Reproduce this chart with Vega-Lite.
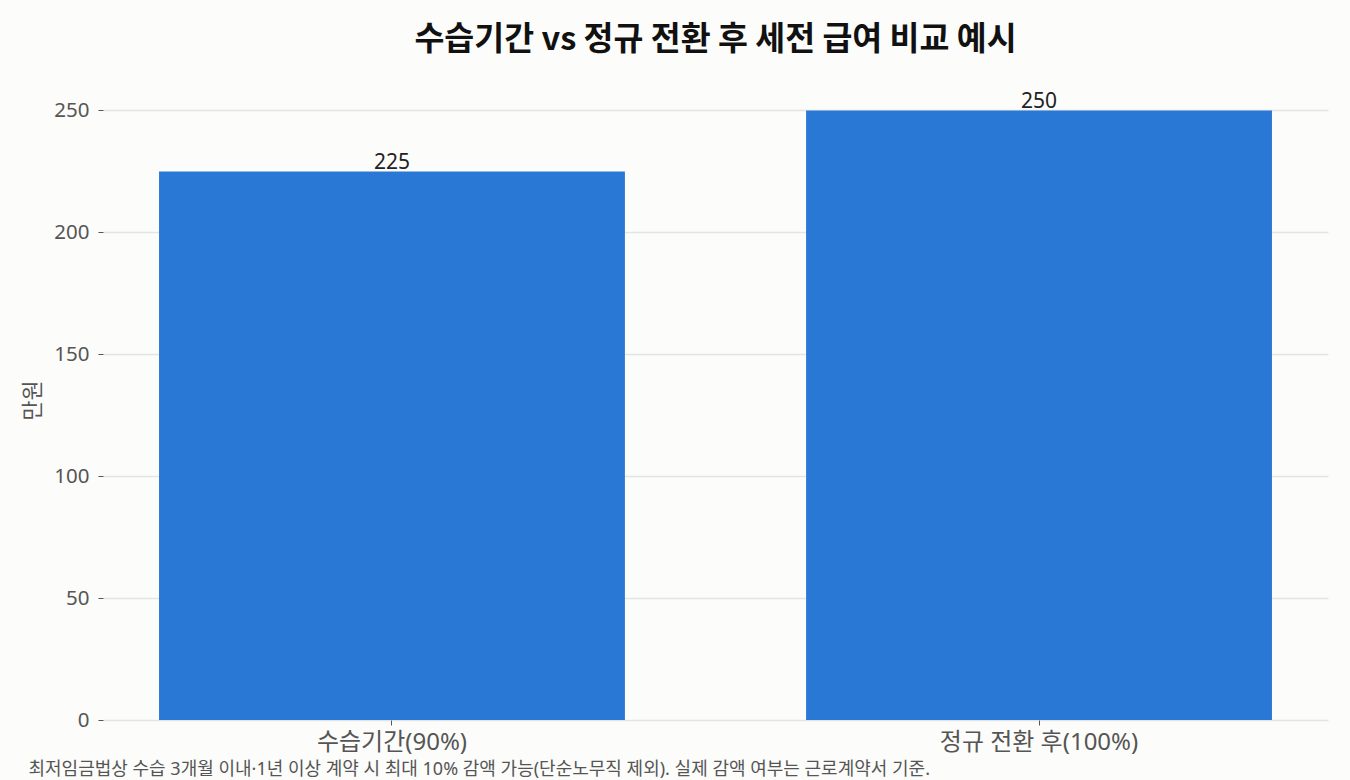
{
  "$schema": "https://vega.github.io/schema/vega-lite/v6.json",
  "autosize": "none",
  "width": 1225,
  "height": 640,
  "padding": {"left": 103, "top": 80, "right": 22, "bottom": 60},
  "background": "#FCFCFA",
  "title": {
    "text": "수습기간 vs 정규 전환 후 세전 급여 비교 예시",
    "font": "Noto Sans CJK KR",
    "fontSize": 32.5,
    "fontWeight": "bold",
    "color": "#111111",
    "anchor": "middle",
    "offset": 24
  },
  "data": {
    "values": [
      {"구분": "수습기간(90%)", "급여": 225},
      {"구분": "정규 전환 후(100%)", "급여": 250}
    ]
  },
  "config": {
    "font": "Noto Sans, Noto Sans CJK KR",
    "view": {"stroke": null}
  },
  "encoding": {
    "x": {
      "field": "구분",
      "type": "nominal",
      "sort": null,
      "scale": {"paddingInner": 0.28, "paddingOuter": 0.0866},
      "axis": {
        "title": "최저임금법상 수습 3개월 이내·1년 이상 계약 시 최대 10% 감액 가능(단순노무직 제외). 실제 감액 여부는 근로계약서 기준.",
        "titleAnchor": "start",
        "titleAlign": "left",
        "titleX": -75,
        "titleY": 40,
        "titleFontSize": 18,
        "titleFontWeight": "normal",
        "titleColor": "#555555",
        "titleLimit": 0,
        "labelAngle": 0,
        "labelFontSize": 24,
        "labelColor": "#555555",
        "labelPadding": 5,
        "labelLimit": 0,
        "domain": false,
        "tickColor": "#555555",
        "tickSize": 5,
        "grid": false
      }
    },
    "y": {
      "field": "급여",
      "type": "quantitative",
      "scale": {"domain": [0, 262.5], "nice": false},
      "axis": {
        "title": "만원",
        "titleFontSize": 22,
        "titleFontWeight": "normal",
        "titleColor": "#555555",
        "titleX": -59,
        "values": [0, 50, 100, 150, 200, 250],
        "labelFontSize": 20.5,
        "labelColor": "#555555",
        "labelPadding": 9,
        "domain": false,
        "tickColor": "#555555",
        "tickSize": 5,
        "gridColor": "#E4E4E4",
        "gridWidth": 1.5
      }
    }
  },
  "layer": [
    {"mark": {"type": "bar", "color": "#2A78D6"}},
    {
      "mark": {"type": "text", "baseline": "bottom", "dy": 2, "fontSize": 21, "color": "#222222"},
      "encoding": {"text": {"field": "급여", "type": "quantitative"}}
    }
  ]
}
